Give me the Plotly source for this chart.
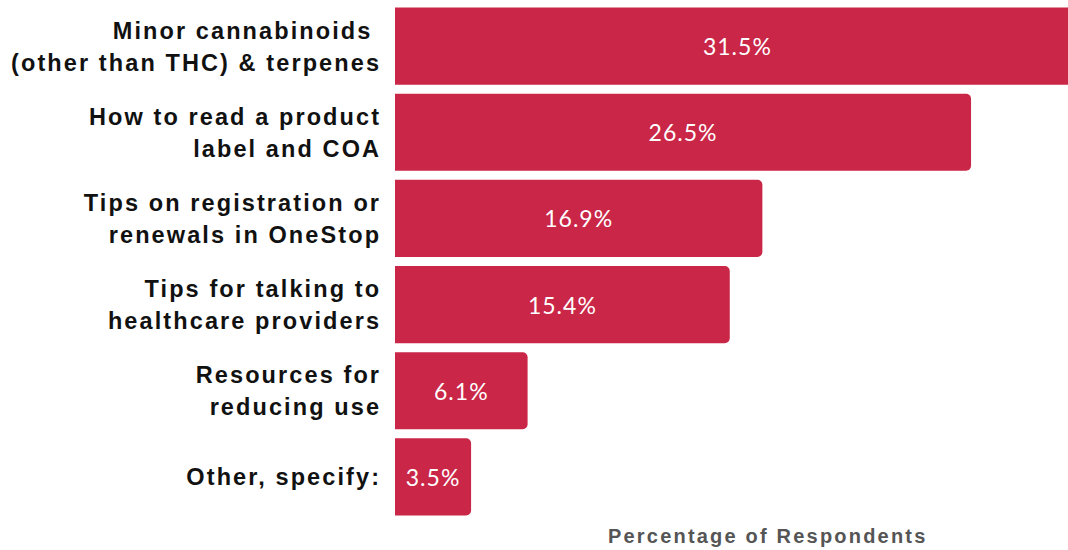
import plotly.graph_objects as go

categories = [
    "Minor cannabinoids <br>(other than THC) & terpenes",
    "How to read a product<br>label and COA",
    "Tips on registration or<br>renewals in OneStop",
    "Tips for talking to<br>healthcare providers",
    "Resources for<br>reducing use",
    "Other, specify:",
]
values = [31.5, 26.5, 16.9, 15.4, 6.1, 3.5]
x_title = "Percentage of Respondents"

BAR_COLOR = "#CA2647"

def styled(s, size, spacing):
    return "<br>".join(
        f'<span style="font-size:{size}px;letter-spacing:{spacing}px">{part}</span>'
        for part in s.split("<br>")
    )

tick_text = [styled(c, 23.5, 2.1) for c in categories]

fig = go.Figure(
    go.Bar(
        x=values,
        y=categories,
        orientation="h",
        marker=dict(color=BAR_COLOR, line=dict(width=0)),
        texttemplate='<span style="letter-spacing:1px">%{x:.1f}%</span>',
        textposition="inside",
        insidetextanchor="middle",
        textangle=0,
        constraintext="none",
        textfont=dict(family="Lato", size=23, color="white"),
        hoverinfo="skip",
        cliponaxis=True,
    )
)

fig.update_layout(
    width=1068,
    height=550,
    margin=dict(l=395, r=0, t=3, b=30),
    paper_bgcolor="white",
    plot_bgcolor="white",
    bargap=0.105,
    barcornerradius=5,
    showlegend=False,
    xaxis=dict(
        range=[0, 30.96],
        showgrid=False,
        zeroline=False,
        showticklabels=False,
        showline=False,
        fixedrange=True,
    ),
    yaxis=dict(
        autorange="reversed",
        showgrid=False,
        zeroline=False,
        showline=False,
        ticks="outside",
        ticklen=8,
        tickcolor="rgba(0,0,0,0)",
        tickmode="array",
        tickvals=categories,
        ticktext=tick_text,
        tickfont=dict(family="Liberation Sans", size=24.5, color="#111111", weight="bold"),
    ),
    annotations=[
        dict(
            text=f'<span style="letter-spacing:2.2px">{x_title}</span>',
            xref="paper",
            yref="paper",
            x=(768 - 395) / 673,
            y=-16 / 517,
            xanchor="center",
            yanchor="middle",
            showarrow=False,
            font=dict(family="Liberation Sans", size=20, color="#555555", weight="bold"),
        )
    ],
)

fig.write_html("out.html")
